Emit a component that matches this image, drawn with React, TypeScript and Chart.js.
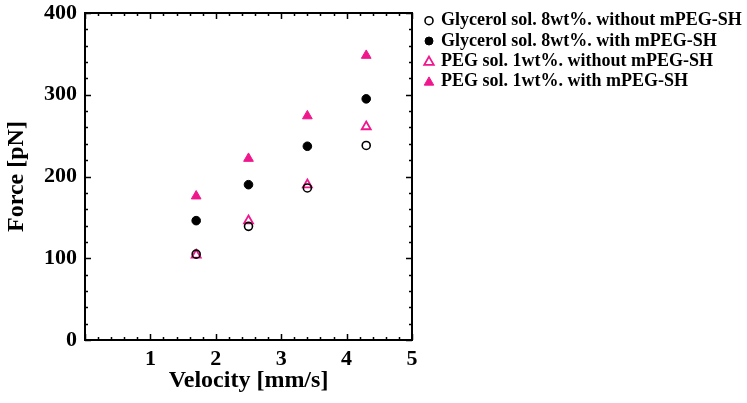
import React, { useEffect, useRef } from "react";
import { Chart, registerables } from "chart.js";

Chart.register(...registerables);

const velocities = [1.7, 2.5, 3.4, 4.3];
const glycerolWithout = [105, 139, 186, 238];
const glycerolWith = [146, 190, 237, 295];
const pegWithout = [104, 146, 190, 261];
const pegWith = [176, 222, 274, 348];

const seriesLabels = [
  "Glycerol sol. 8wt%. without mPEG-SH",
  "Glycerol sol. 8wt%. with mPEG-SH",
  "PEG sol. 1wt%. without mPEG-SH",
  "PEG sol. 1wt%. with mPEG-SH",
];
const xTickValues = [1, 2, 3, 4, 5];
const yTickValues = [0, 100, 200, 300, 400];

const PINK = "#f0168c";
const FONT = "'Liberation Serif', 'Times New Roman', serif";

const toPoints = (ys: number[]) => velocities.map((x, i) => ({ x, y: ys[i] }));

function drawMarker(ctx: CanvasRenderingContext2D, style: string, x: number, y: number, r: number, fill: string, stroke: string, lw: number) {
  ctx.save();
  ctx.beginPath();
  if (style === "circle") {
    ctx.arc(x, y, r, 0, Math.PI * 2);
  } else {
    const rad0 = -Math.PI / 2;
    for (let k = 0; k < 3; k++) {
      const a = rad0 + (k * 2 * Math.PI) / 3;
      const px = x + Math.cos(a) * r;
      const py = y + Math.sin(a) * r;
      if (k === 0) ctx.moveTo(px, py);
      else ctx.lineTo(px, py);
    }
    ctx.closePath();
  }
  if (fill !== "transparent") {
    ctx.fillStyle = fill;
    ctx.fill();
  }
  ctx.lineWidth = lw;
  ctx.strokeStyle = stroke;
  ctx.stroke();
  ctx.restore();
}

const framePlugin = {
  id: "frameTicks",
  afterDraw(chart: any) {
    const { ctx, chartArea, scales } = chart;
    const { left, right, top, bottom } = chartArea;
    const xs = scales.x;
    const ys = scales.y;
    ctx.save();
    ctx.strokeStyle = "#000";
    ctx.lineWidth = 1.5;
    for (let v = 0; v <= 5.0001; v += 0.2) {
      const val = Math.round(v * 10) / 10;
      const major = Math.abs(val - Math.round(val)) < 1e-6;
      const len = major ? 6 : 3;
      const px = Math.round(xs.getPixelForValue(val)) + 0.5;
      ctx.beginPath();
      ctx.moveTo(px, bottom);
      ctx.lineTo(px, bottom - len);
      ctx.moveTo(px, top);
      ctx.lineTo(px, top + len);
      ctx.stroke();
    }
    for (let v = 0; v <= 400; v += 20) {
      const major = v % 100 === 0;
      const len = major ? 6 : 3;
      const py = Math.round(ys.getPixelForValue(v)) + 0.5;
      ctx.beginPath();
      ctx.moveTo(left, py);
      ctx.lineTo(left + len, py);
      ctx.moveTo(right, py);
      ctx.lineTo(right - len, py);
      ctx.stroke();
    }
    ctx.lineWidth = 2;
    ctx.strokeRect(left, top, right - left, bottom - top);
    ctx.restore();
  },
};

const legendPlugin = {
  id: "customLegend",
  afterDraw(chart: any) {
    const { ctx } = chart;
    const x0 = 429;
    const tx = 441;
    const y0 = 20.7;
    const dy = 20.3;
    ctx.save();
    ctx.font = `bold 18px ${FONT}`;
    ctx.textBaseline = "middle";
    ctx.textAlign = "left";
    ctx.fillStyle = "#000";
    chart.data.datasets.forEach((ds: any, i: number) => {
      const y = y0 + i * dy;
      const r = ds.pointStyle === "circle" ? 4 : 5.5;
      drawMarker(ctx, ds.pointStyle, x0, y + (ds.pointStyle === "circle" ? 0 : 0.8), r, ds.pointBackgroundColor, ds.pointBorderColor, ds.pointBorderWidth);
      ctx.fillStyle = "#000";
      ctx.fillText(ds.label, tx, y);
    });
    ctx.restore();
  },
};

export default function App() {
  const ref = useRef<HTMLCanvasElement | null>(null);
  useEffect(() => {
    document.body.style.margin = "0";
    const canvas = ref.current;
    if (!canvas) return;
    const chart = new Chart(canvas, {
      type: "scatter",
      data: {
        datasets: [
          {
            label: seriesLabels[0],
            data: toPoints(glycerolWithout),
            pointStyle: "circle",
            pointRadius: 4,
            pointBackgroundColor: "transparent",
            pointBorderColor: "#000",
            pointBorderWidth: 1.6,
          },
          {
            label: seriesLabels[1],
            data: toPoints(glycerolWith),
            pointStyle: "circle",
            pointRadius: 4.3,
            pointBackgroundColor: "#000",
            pointBorderColor: "#000",
            pointBorderWidth: 1,
          },
          {
            label: seriesLabels[2],
            data: toPoints(pegWithout),
            pointStyle: "triangle",
            pointRadius: 5.2,
            pointBackgroundColor: "transparent",
            pointBorderColor: PINK,
            pointBorderWidth: 1.8,
          },
          {
            label: seriesLabels[3],
            data: toPoints(pegWith),
            pointStyle: "triangle",
            pointRadius: 5.6,
            pointBackgroundColor: PINK,
            pointBorderColor: PINK,
            pointBorderWidth: 1,
          },
        ] as any,
      },
      options: {
        animation: false,
        responsive: false,
        maintainAspectRatio: false,
        layout: { padding: { top: 13, right: 335, bottom: 0, left: 0 } },
        plugins: {
          legend: { display: false },
          tooltip: { enabled: false },
        },
        scales: {
          x: {
            type: "linear",
            min: 0,
            max: 5,
            afterBuildTicks: (scale: any) => {
              scale.ticks = xTickValues.map((v) => ({ value: v }));
            },
            afterFit: (scale: any) => {
              scale.height = 63;
              scale.paddingLeft = 0;
              scale.paddingRight = 0;
            },
            grid: { display: false, drawTicks: false },
            border: { display: false },
            ticks: {
              padding: 6,
              color: "#000",
              font: { family: FONT, size: 22, weight: "bold" },
              maxRotation: 0,
            },
            title: {
              display: true,
              text: "Velocity [mm/s]",
              color: "#000",
              font: { family: FONT, size: 24, weight: "bold" },
              padding: { top: 0, bottom: 7.5 },
            },
          },
          y: {
            type: "linear",
            min: 0,
            max: 400,
            afterBuildTicks: (scale: any) => {
              scale.ticks = yTickValues.map((v) => ({ value: v }));
            },
            afterFit: (scale: any) => {
              scale.width = 85;
              scale.paddingTop = 0;
              scale.paddingBottom = 0;
            },
            grid: { display: false, drawTicks: false },
            border: { display: false },
            ticks: {
              padding: 8,
              color: "#000",
              font: { family: FONT, size: 22, weight: "bold" },
            },
            title: {
              display: true,
              text: "Force [pN]",
              color: "#000",
              font: { family: FONT, size: 24, weight: "bold" },
              padding: { top: 2, bottom: 0 },
            },
          },
        },
      } as any,
      plugins: [framePlugin, legendPlugin],
    });
    return () => chart.destroy();
  }, []);
  return (
    <div style={{ width: 747, height: 403, background: "#fff" }}>
      <canvas ref={ref} width={747} height={403} style={{ display: "block", width: 747, height: 403 }} />
    </div>
  );
}
